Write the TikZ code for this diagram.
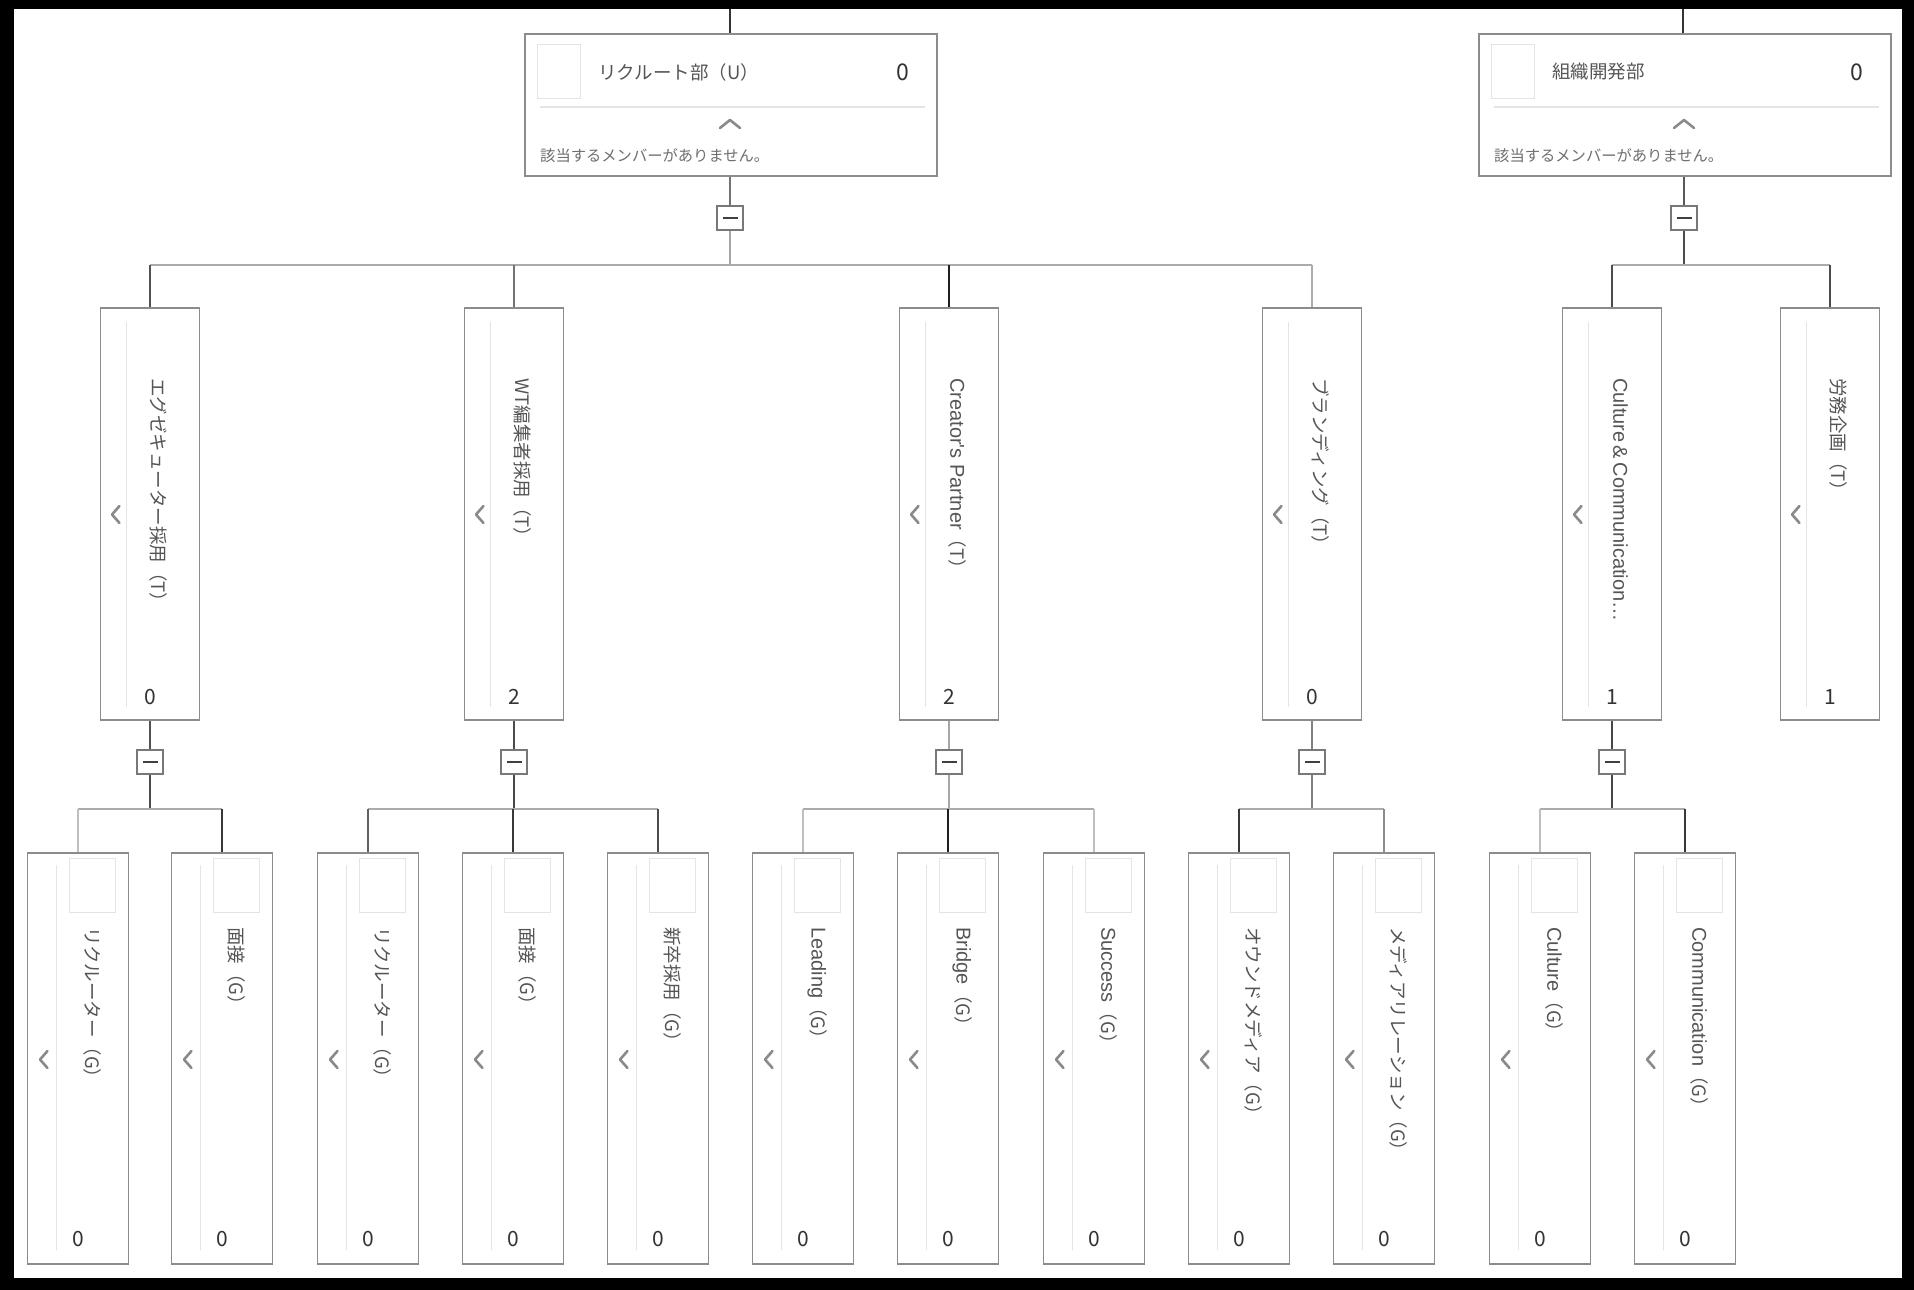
\documentclass[tikz,border=0pt]{standalone}
\usepackage{fontspec}
\newfontfamily\jp{Noto Sans CJK JP}
\newfontfamily\lat{Liberation Sans}
\newcommand\la[1]{{\lat\fontsize{20}{20}\selectfont #1}}
\definecolor{boxc}{HTML}{8C8C8C}
\definecolor{labc}{HTML}{555555}
\definecolor{cntc}{HTML}{333333}
\definecolor{faint}{HTML}{E4E4E4}
\definecolor{chevc}{HTML}{8A8A8A}
\definecolor{busc}{HTML}{ABABAB}
\colorlet{togc}{black!53}
\tikzset{
  boxbase/.style={draw=boxc, line width=1.6pt, fill=white, rectangle, inner sep=0pt},
  unitbox/.style={boxbase, minimum width=412pt, minimum height=142pt},
  teambox/.style={boxbase, minimum width=99pt, minimum height=412pt},
  grpbox/.style={boxbase, minimum width=101pt, minimum height=411pt},
  toggle/.style={draw=togc, line width=1.2pt, fill=white, rectangle, inner sep=0pt, minimum width=26pt, minimum height=24pt},
  lbl/.style={font=\jp\fontsize{18.5}{18.5}\selectfont, text=labc, inner sep=0pt},
  vlbl/.style={lbl, rotate=-90, anchor=west},
  note/.style={font=\jp\fontsize{15.3}{15.3}\selectfont, text=labc!85, inner sep=0pt, anchor=west},
  cnt/.style={font=\jp\fontsize{21}{21}\selectfont, text=cntc, inner sep=0pt},
  topcnt/.style={font=\jp\fontsize{23}{23}\selectfont, text=cntc, inner sep=0pt},
  avatar/.style={draw=faint, line width=0.8pt},
  faintline/.style={draw=faint, line width=1.2pt},
  chev/.style={draw=chevc, line width=2.6pt, line cap=round, line join=round},
  bus/.style={draw=busc, line width=2pt},
  lk/.style={line width=1.5pt},
  minus/.style={line width=2.6pt, draw=black!75},
}
\begin{document}
\begin{tikzpicture}[x=1pt,y=-1pt]
\fill[black] (0,0) rectangle (1914,1290);
\useasboundingbox (0,0) rectangle (1914,1290);
\fill[white] (14,9) rectangle (1902,1278);

% ---------- top unit boxes ----------
\node[unitbox] (U) at (731,105) {};
\node[unitbox] (O) at (1685,105) {};
\foreach \n/\lx/\txt in {U/525/{リクルート部（U）}, O/1479/{組織開発部}}{
  \begin{scope}[shift={(\lx,34)}]
    \draw[avatar] (12,10) rectangle (55,64);
    \node[lbl, anchor=west] (\n-t) at (73,38) {\txt};
    \node[topcnt] (\n-c) at (378,38) {0};
    \draw[faintline] (15,73) -- (400,73);
    \draw[chev] (195,94) -- (205,86) -- (215,94);
    \node[note] (\n-n) at (15,122) {該当するメンバーがありません。};
  \end{scope}
}
\coordinate (Utop) at (730,9);
\coordinate (Otop) at (1683,9);
\draw[lk, draw=black!80] (Utop) -- (Utop |- U.north);
\draw[lk, draw=black!80] (Otop) -- (Otop |- O.north);

\node[toggle] (tU) at (730,218) {};
\node[toggle] (tO) at (1684,218) {};
\draw[minus] ([xshift=-7.5pt]tU.center) -- ([xshift=7.5pt]tU.center);
\draw[minus] ([xshift=-7.5pt]tO.center) -- ([xshift=7.5pt]tO.center);

% ---------- level 2 (teams) ----------
\foreach \n/\x/\txt/\c in {
  e1/150/{エグゼキューター採用（T）}/0,
  e2/514/{WT編集者採用（T）}/2,
  e3/949/{\la{Creator's Partner}（T）}/2,
  e4/1312/{ブランディング（T）}/0,
  e5/1612/{\la{Culture\,\&\,Communication…}}/1,
  e6/1830/{労務企画（T）}/1}{
  \node[teambox] (\n) at (\x,514) {};
  \begin{scope}[shift={(\x-49.5,308)}]
    \draw[faintline] (26,14) -- (26,399);
    \draw[chev] (19,198) -- (11.5,206.5) -- (19,215);
    \node[vlbl] (\n-t) at (58,70) {\txt};
    \node[cnt] (\n-c) at (49.5,389) {\c};
  \end{scope}
}

% connectors level 1 -> 2
\coordinate (bU) at (730,265);
\coordinate (bO) at (1684,265);
\draw[lk, draw=black!55] (U.south -| tU) -- (tU.north);
\draw[lk, draw=black!35] (tU.south) -- (bU);
\draw[lk, draw=black!65] (O.south -| tO) -- (tO.north);
\draw[lk, draw=black!70] (tO.south) -- (bO);
\draw[bus] (bU -| e1.north) -- (bU -| e4.north);
\draw[bus] (bO -| e5.north) -- (bO -| e6.north);
\draw[lk, draw=black!68] (e1.north) -- (e1.north |- bU);
\draw[lk, draw=black!55] (e2.north) -- (e2.north |- bU);
\draw[lk, draw=black!88] (e3.north) -- (e3.north |- bU);
\draw[lk, draw=black!32] (e4.north) -- (e4.north |- bU);
\draw[lk, draw=black!70] (e5.north) -- (e5.north |- bO);
\draw[lk, draw=black!70] (e6.north) -- (e6.north |- bO);

% ---------- level 3 (groups) ----------
\foreach \n/\x/\txt in {
  g1/78/{リクルーター（G）},
  g2/222/{面接（G）},
  g3/368/{リクルーター（G）},
  g4/513/{面接（G）},
  g5/658/{新卒採用（G）},
  g6/803/{\la{Leading}（G）},
  g7/948/{\la{Bridge}（G）},
  g8/1094/{\la{Success}（G）},
  g9/1239/{オウンドメディア（G）},
  g10/1384/{メディアリレーション（G）},
  g11/1540/{\la{Culture}（G）},
  g12/1685/{\la{Communication}（G）}}{
  \node[grpbox] (\n) at (\x,1058.5) {};
  \begin{scope}[shift={(\x-50.5,853)}]
    \draw[avatar] (42,5) rectangle (88,59);
    \draw[faintline] (29,12) -- (29,397);
    \draw[chev] (20,198) -- (12.5,206.5) -- (20,215);
    \node[vlbl] (\n-t) at (65,74) {\txt};
    \node[cnt] (\n-c) at (50.5,386) {0};
  \end{scope}
}

% toggles level 2
\foreach \n/\p/\x/\ca/\cb in {te1/e1/150/68/70, te2/e2/514/70/72, te3/e3/949/35/35, te4/e4/1312/50/50, te5/e5/1612/72/72}{
  \node[toggle] (\n) at (\x,762) {};
  \draw[minus] ([xshift=-7.5pt]\n.center) -- ([xshift=7.5pt]\n.center);
  \draw[lk, draw=black!\ca] (\p.south) -- (\n.north);
  \coordinate (b\n) at (\x,809);
  \draw[lk, draw=black!\cb] (\n.south) -- (b\n);
}

\draw[bus] (bte1 -| g1.north) -- (bte1 -| g2.north);
\draw[bus] (bte2 -| g3.north) -- (bte2 -| g5.north);
\draw[bus] (bte3 -| g6.north) -- (bte3 -| g8.north);
\draw[bus] (bte4 -| g9.north) -- (bte4 -| g10.north);
\draw[bus] (bte5 -| g11.north) -- (bte5 -| g12.north);

\foreach \g/\b/\c in {g1/bte1/25, g2/bte1/78, g3/bte2/62, g4/bte2/78, g5/bte2/70,
  g6/bte3/25, g7/bte3/88, g8/bte3/25, g9/bte4/78, g10/bte4/45, g11/bte5/25, g12/bte5/78}{
  \draw[lk, draw=black!\c] (\g.north) -- (\g.north |- \b);
}
\end{tikzpicture}
\end{document}
